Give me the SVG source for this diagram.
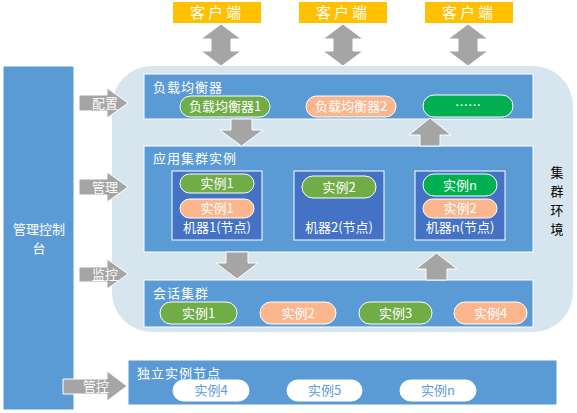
<svg xmlns="http://www.w3.org/2000/svg" width="577" height="413" viewBox="0 0 577 413">
<style>
text{font-family:"Microsoft YaHei","Noto Sans CJK SC","Noto Sans",sans-serif;fill:#fff}
.t{font-size:13px;letter-spacing:1px}
.p{font-size:13px;text-anchor:middle}
.box{fill:#5B9BD5;stroke:#fff;stroke-width:1}
.mac{fill:#4472C4;stroke:#fff;stroke-width:1}
.g{fill:#70AD47;stroke:#fff;stroke-width:1}
.bg{fill:#00B050;stroke:#fff;stroke-width:1}
.o{fill:#FBB68E;stroke:#fff;stroke-width:1}
.w{fill:#fff;stroke:#fff;stroke-width:1}
.arr{fill:#A5A5A5;stroke:#fff;stroke-width:1}
.cli{fill:#FFC000}
.v{font-size:13px;fill:#000;text-anchor:middle}
</style>
<rect width="577" height="413" fill="#fff"/>
<g id="clients">
<g id="client1"><rect class="cli" x="173" y="2" width="88" height="21"/><text x="217" y="18" style="font-size:15px;text-anchor:middle;letter-spacing:3px">客户端</text></g>
<g id="client2"><rect class="cli" x="299" y="2" width="88" height="21"/><text x="343" y="18" style="font-size:15px;text-anchor:middle;letter-spacing:3px">客户端</text></g>
<g id="client3"><rect class="cli" x="425" y="2" width="88" height="21"/><text x="469" y="18" style="font-size:15px;text-anchor:middle;letter-spacing:3px">客户端</text></g>
</g>
<g id="console"><rect x="3" y="66" width="71" height="344" fill="#5B9BD5" stroke="#fff"/><text x="39" y="234" style="font-size:13px;text-anchor:middle">管理控制</text><text x="39" y="253" style="font-size:13px;text-anchor:middle">台</text></g>
<g id="cluster-env"><rect x="112" y="66" width="461" height="266" rx="40" ry="40" fill="#D6E5EE"/>
<text class="v" x="557" y="177">集</text>
<text class="v" x="557" y="196">群</text>
<text class="v" x="557" y="215">环</text>
<text class="v" x="557" y="234">境</text>
</g>
<g id="lb"><rect class="box" x="144" y="74" width="389" height="45"/><text class="t" x="153" y="92">负载均衡器</text>
<g id="lb1"><rect class="g" x="180" y="96" width="90" height="21" rx="10.5"/><text class="p" x="225" y="111">负载均衡器1</text></g>
<g id="lb2"><rect class="o" x="306" y="96" width="90" height="21" rx="10.5"/><text class="p" x="351" y="111">负载均衡器2</text></g>
<g id="lb3"><rect class="bg" x="423" y="95" width="90" height="22" rx="11"/><text class="p" x="468" y="110">……</text></g>
</g>
<g id="app"><rect class="box" x="144" y="146" width="389" height="106"/><text class="t" x="153" y="163">应用集群实例</text>
<g id="m1"><rect class="mac" x="172" y="171" width="90" height="69"/>
<rect class="g" x="180" y="174" width="74" height="19" rx="9.5"/><text class="p" x="217" y="188">实例1</text>
<rect class="o" x="180" y="199" width="74" height="19" rx="9.5"/><text class="p" x="217" y="213">实例1</text>
<text class="p" x="217" y="232">机器1(节点)</text></g>
<g id="m2"><rect class="mac" x="294" y="171" width="90" height="69"/>
<rect class="g" x="302" y="176" width="74" height="22" rx="11"/><text class="p" x="339" y="192">实例2</text>
<text class="p" x="339" y="232">机器2(节点)</text></g>
<g id="m3"><rect class="mac" x="415" y="171" width="90" height="69"/>
<rect class="bg" x="423" y="174" width="74" height="22" rx="11"/><text class="p" x="460" y="190">实例n</text>
<rect class="o" x="423" y="199" width="74" height="19" rx="9.5"/><text class="p" x="460" y="213">实例2</text>
<text class="p" x="460" y="232">机器n(节点)</text></g>
</g>
<g id="session"><rect class="box" x="144" y="280" width="389" height="47"/><text class="t" x="153" y="298">会话集群</text>
<rect class="g" x="160" y="302" width="77" height="22" rx="11"/><text class="p" x="198.5" y="318">实例1</text>
<rect class="o" x="260" y="302" width="76" height="22" rx="11"/><text class="p" x="298" y="318">实例2</text>
<rect class="g" x="359" y="302" width="73" height="22" rx="11"/><text class="p" x="395.5" y="318">实例3</text>
<rect class="o" x="454" y="302" width="73" height="22" rx="11"/><text class="p" x="490.5" y="318">实例4</text>
</g>
<g id="standalone"><rect class="box" x="128" y="360" width="429" height="45"/><text class="t" x="137" y="378">独立实例节点</text>
<rect class="w" x="173" y="380" width="76" height="21" rx="10.5"/><text class="p" x="211" y="395" style="fill:#5B9BD5">实例4</text>
<rect class="w" x="287" y="380" width="75" height="21" rx="10.5"/><text class="p" x="324.5" y="395" style="fill:#5B9BD5">实例5</text>
<rect class="w" x="400" y="380" width="76" height="21" rx="10.5"/><text class="p" x="438" y="395" style="fill:#5B9BD5">实例n</text>
</g>
<g id="connectors">
<polygon class="arr" points="221,24 241,39 231,39 231,51 241,51 221,66 201,51 211,51 211,39 201,39"/>
<polygon class="arr" points="343,24 363,39 353,39 353,51 363,51 343,66 323,51 333,51 333,39 323,39"/>
<polygon class="arr" points="468,24 488,39 478,39 478,51 488,51 468,66 448,51 458,51 458,39 448,39"/>
<polygon class="arr" points="231,119 252,119 252,130 263,130 241.5,146 220,130 231,130"/>
<polygon class="arr" points="430,118 451,135 440,135 440,146 420,146 420,135 409,135"/>
<polygon class="arr" points="226,252 248,252 248,263 258,263 237,279 216,263 226,263"/>
<polygon class="arr" points="436.5,253 457,269 447,269 447,280 426,280 426,269 416,269"/>
<g id="cfg"><polygon class="arr" points="79,95 107,95 107,88 128,103 107,118 107,111 79,111"/><text x="105" y="108" style="font-size:13px;text-anchor:middle">配置</text></g>
<g id="mgr"><polygon class="arr" points="79,179 107,179 107,172 128,187 107,202 107,195 79,195"/><text x="105" y="192" style="font-size:13px;text-anchor:middle">管理</text></g>
<g id="mon"><polygon class="arr" points="79,267 107,267 107,259 128,274 107,289 107,282 79,282"/><text x="105" y="279" style="font-size:13px;text-anchor:middle">监控</text></g>
<g id="ctl"><polygon class="arr" points="63,379 107,379 107,371 127,386 107,401 107,394 63,394"/><text x="96" y="391" style="font-size:13px;text-anchor:middle">管控</text></g>
</g>
</svg>
